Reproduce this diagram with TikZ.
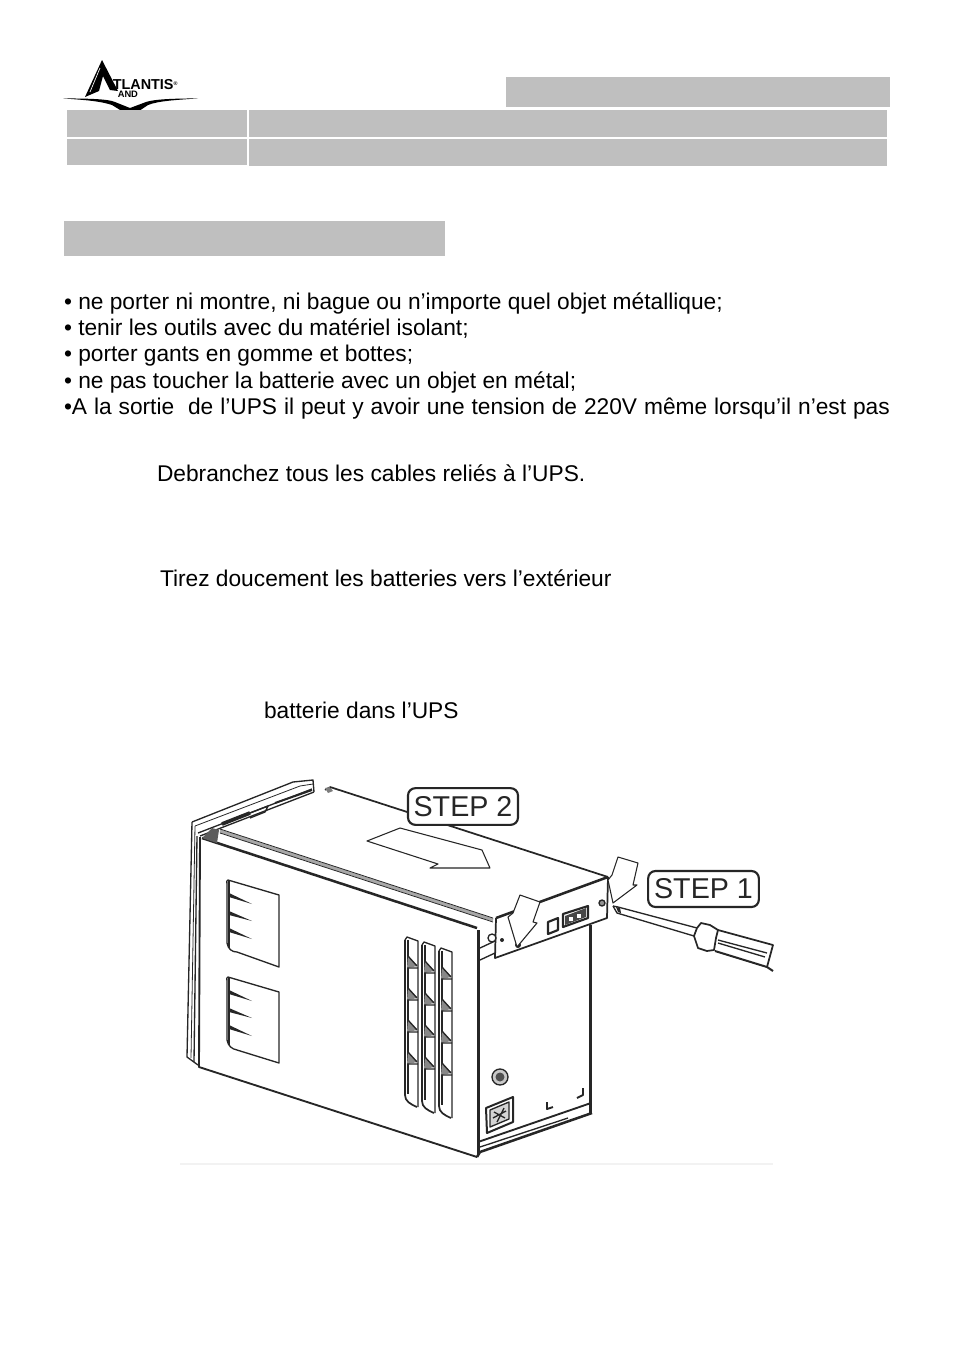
\documentclass[tikz,border=0pt]{standalone}
\usepackage{fontspec}
\setmainfont{Liberation Sans}
\definecolor{band}{HTML}{BFBFBF}
\definecolor{ink}{HTML}{262626}
\tikzset{
  band/.style={fill=band,draw=none},
  body/.style={anchor=base west,inner sep=0pt,outer sep=0pt,font=\fontsize{17.05}{19}\selectfont,text=black},
  thinl/.style={draw=ink,line width=0.6pt,line join=round},
  medl/.style={draw=ink,line width=1pt,line join=round},
  thickl/.style={draw=ink,line width=1.9pt,line join=round},
  stepbox/.style={draw=ink,line width=1.6pt,rounded corners=5.5pt,fill=white,inner sep=0pt,font=\fontsize{21.5}{24}\selectfont,text=ink},
  hollow/.style={draw=ink,line width=0.8pt,fill=white,line join=round},
}
\newcommand{\slats}[1]{%
  \fill[ink] (229,#1-2) -- (252,#1+9) -- (229,#1+2) -- cycle;
  \fill[ink] (229,#1+16) -- (252,#1+26) -- (229,#1+20) -- cycle;
  \fill[ink] (229,#1+33) -- (252,#1+44) -- (229,#1+37) -- cycle;
}
\newcommand{\ventcol}[3]{% x, top, bottom
  \draw[medl,line width=1.3pt] (#1,#2+3) -- (#1,#3-12) .. controls (#1,#3-6) and (#1+5,#3-3) .. (#1+12,#3);
  \draw[medl] (#1+3,#2+3) -- (#1+3,#3-13);
  \draw[medl] (#1,#2+3) -- (#1+2,#2) -- (#1+13,#2+4) -- (#1+13,#3);
  \foreach \k in {0,1,2,3}{
    \fill[ink!55] (#1+2,#2+31+\k*32) -- (#1+3,#2+19+\k*32) -- (#1+13,#2+29+\k*32) -- cycle;
    \draw[medl] (#1+2,#2+31+\k*32) -- (#1+13,#2+31+\k*32) (#1+3,#2+19+\k*32) -- (#1+12,#2+29+\k*32);
  }
}
\begin{document}
\begin{tikzpicture}[x=0.75pt,y=-0.75pt]
\useasboundingbox (0,0) rectangle (954,1354);
% logo
\fill[black] (102,60) -- (85,97) -- (99,91) -- (103,76) -- (110,90) -- (118,91) -- cycle;
\draw[white,line width=0.5pt] (100,68) -- (90,92);
\fill[black] (63,98.4) .. controls (90,98.5) and (108,99) .. (115,102) -- (130,108) -- (146,102) .. controls (155,99) and (175,98.5) .. (198,98.4) .. controls (175,100) and (158,101) .. (148,105) -- (136,113) -- (125,113) -- (112,105) .. controls (100,101) and (85,100) .. (63,98.4) -- cycle;
\node[inner sep=0pt,anchor=base west,font=\bfseries\fontsize{10.8}{11}\selectfont] (logoa) at (112.5,89.5) {TLANTIS\raisebox{3pt}{\fontsize{4}{4}\selectfont ®}};
\node[inner sep=0pt,anchor=base west,font=\bfseries\fontsize{7}{8}\selectfont] (logob) at (117.5,97.5) {AND};
% bands
\fill[band] (506,77) rectangle (890,107);
\fill[band] (67,110) rectangle (247,137);
\fill[band] (249,110) rectangle (887,137);
\fill[band] (67,138.5) rectangle (247,165);
\fill[band] (249,139) rectangle (887,166);
\fill[band] (64,221) rectangle (445,256);
% text
\node[body] (t1) at (64,309) {• ne porter ni montre, ni bague ou n’importe quel objet métallique;};
\node[body] (t2) at (64,335) {• tenir les outils avec du matériel isolant;};
\node[body] (t3) at (64,361) {• porter gants en gomme et bottes;};
\node[body] (t4) at (64,388) {• ne pas toucher la batterie avec un objet en métal;};
\node[body] (t5) at (64,414) {\spaceskip=5.2pt •A la sortie\ \ de l’UPS il peut y avoir une tension de 220V même lorsqu’il n’est pas};
\node[body] (t6) at (157,481) {Debranchez tous les cables reliés à l’UPS.};
\node[body] (t7) at (160,586) {Tirez doucement les batteries vers l’extérieur};
\node[body] (t8) at (264,718) {batterie dans l’UPS};
% faint base line
\draw[black!5,line width=1pt] (180,1164) -- (773,1164);
% ---- UPS ----
% bezel
\draw[medl] (192,822) -- (293,782) -- (313,780) -- (314,792);
\draw[thinl] (195,826) -- (300,786) -- (313,784);
\draw[medl] (198,833) -- (312,789);
\draw[medl] (200,836) -- (314,792);
\draw[ink,line width=2.8pt] (222,824) -- (250,813);
\draw[medl] (250,813) -- (268,806) -- (265,812) -- (250,818);
\draw[thickl,line width=1.5pt] (275,803) -- (312,790);
\draw[medl] (192,822) -- (187,1057) -- (198,1065);
\draw[thinl] (195,826) -- (191,1058);
\draw[medl] (197,836) -- (194,1062);
% front
\draw[medl,line width=1.4pt] (200,837) -- (199,1067) -- (477,1157);
\draw[thickl] (202,838) -- (477,928);
\fill[ink!75] (202,838) -- (212,828) -- (219,830) -- (217,843) -- cycle;
% stripe along top
\draw[ink!40,line width=2.4pt] (220,831) -- (493,920);
\draw[thinl] (220,829) -- (493,918);
\draw[thinl] (220,833) -- (493,922);
% top cover
\draw[medl] (325,790) -- (330,787);
\fill[ink!60] (325,788) -- (330,787) -- (333,791) -- (328,793) -- cycle;
\draw[medl,line width=1.3pt] (330,787) -- (608,877);
\draw[thickl] (608,877) -- (496,918);
% back side panel
\draw[medl,line width=1.3pt] (608,877) -- (607,918) -- (495,958) -- (496,918);
% rear body
\draw[thickl] (478.5,930) -- (478.5,1155);
\draw[thickl] (590.5,925) -- (590.5,1113);
\draw[medl] (480,960) -- (495,953);
\draw[medl] (480,948) -- (495,941);
\draw[thickl,line width=1.4pt] (478,1142) -- (591,1103);
\draw[thickl] (480,1152) -- (592,1113);
\draw[thickl] (477,1157) -- (480,1152);
\draw[medl] (480,1147) -- (568,1118);
% rear screws & details
\draw[medl,fill=white] (492,938) circle[radius=4];
\fill[ink] (502,940) circle[radius=2];
\draw[medl,fill=ink!50] (602,903) circle[radius=3];
\fill[ink] (518,945) circle[radius=3];
% left vents
\draw[medl] (279,895) -- (228,880) .. controls (226,880) and (227,882) .. (227,884) -- (227,943) .. controls (228,949) and (232,952) .. (237,952) -- (279,967) -- cycle;
\draw[medl] (229,881) -- (229,948);
\slats{895}
\draw[medl] (279,992) -- (228,977) .. controls (226,977) and (227,979) .. (227,981) -- (227,1040) .. controls (228,1046) and (232,1049) .. (237,1050) -- (279,1063) -- cycle;
\draw[medl] (229,978) -- (229,1045);
\slats{992}
% vertical vents
\ventcol{405}{937}{1107}
\ventcol{422}{942}{1113}
\ventcol{439}{948}{1118}
% panel ports
\draw[medl,line width=1.6pt] (548,922) -- (558,918) -- (558,930) -- (548,934) -- cycle;
\draw[medl,line width=1.6pt] (563,914) -- (588,906) -- (588,918) -- (563,927) -- cycle;
\fill[ink!85] (565,916) -- (586,908) -- (586,917) -- (565,925) -- cycle;
\fill[white] (569,917) rectangle (573,921);
\fill[white] (577,914) rectangle (581,918);
% base details
\draw[medl,fill=ink!25] (500,1077) circle[radius=8];
\fill[ink!80] (500,1077) circle[radius=4.5];
\draw[medl,line width=1.5pt] (486,1108) -- (513,1097) -- (513,1122) -- (487,1133) -- cycle;
\draw[medl,fill=ink!20] (490,1110) -- (509,1102) -- (509,1119) -- (490,1127) -- cycle;
\draw[medl] (494,1112) -- (505,1118) (497,1122) -- (504,1108) (493,1118) -- (506,1111);
\draw[medl,line width=1.4pt] (547,1102) -- (547,1109) -- (553,1107);
\draw[medl,line width=1.4pt] (583,1088) -- (583,1095) -- (577,1098);
% STEP 2 arrow
\draw[hollow] (367,841) -- (400,828) -- (482,850) -- (490,868) -- (430,868) -- (438,864) -- cycle;
% hollow pointer arrows
\draw[hollow] (618,857) -- (638,863) -- (633,885) -- (637,885) -- (613,903) -- (608,880) -- (612,875) -- cycle;
\draw[hollow] (520,895) -- (540,902) -- (533,922) -- (537,923) -- (517,947) -- (508,917) -- (513,913) -- cycle;
% screwdriver
\draw[medl] (613,906) -- (618,907) -- (697,928);
\draw[medl] (613,906) -- (617,913) -- (694,936);
\fill[ink] (616,907) -- (620,908) -- (621,913) -- (618,912) -- cycle;
\draw[medl,line width=1.3pt,fill=white] (697,928) -- (701,923) -- (710,925) -- (718,930) -- (716,938) -- (714,950) -- (707,951) -- (698,948) -- (694,936) -- cycle;
\draw[medl,line width=1.3pt] (718,930) -- (773,945) -- (767,967);
\draw[thickl,line width=1.5pt] (715,951) -- (767,967) -- (773,971);
\draw[medl] (718,940) -- (767,953);
\draw[medl] (718,943) -- (765,957);
% STEP boxes
\node[stepbox,minimum width=82.5pt,minimum height=27.5pt] (s2) at (463,806.5) {STEP 2};
\node[stepbox,minimum width=83pt,minimum height=27pt] (s1) at (703.5,889) {STEP 1};
\end{tikzpicture}
\end{document}
